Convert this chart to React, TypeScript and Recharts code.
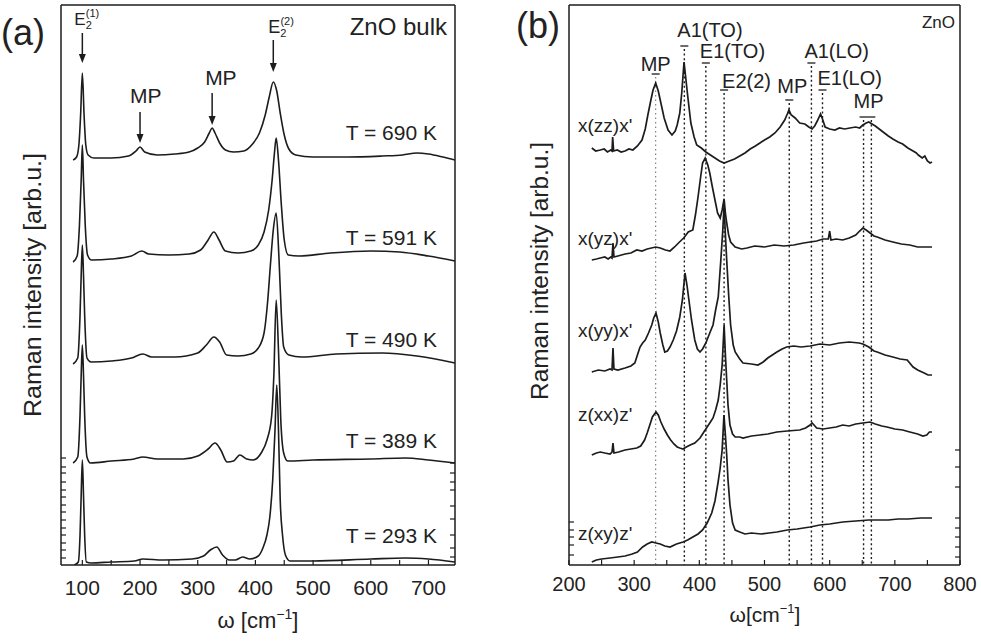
import React from 'react'
import { LineChart, Line, XAxis, YAxis, ReferenceLine } from 'recharts'

const FONT = '"Liberation Sans", Arial, Helvetica, sans-serif'
const INK = '#1c1c1c'

// ---------- panel (a): ZnO bulk, Raman vs temperature ----------
// each spectrum: [ω (cm-1), intensity (arb.u., already stacked)]
const t690 = [[84,405],[90,408],[94,420],[97,450],[100,492],[103,450],[106,420],[110,410],[120,407],[150,407],[180,409],[193,414],[200,418],[208,413],[230,410],[260,411],[285,413],[300,417],[312,423],[320,432],[325,437],[330,432],[338,422],[348,415],[362,413],[380,414],[395,421],[407,432],[417,450],[424,468],[431,483],[437,474],[443,452],[450,430],[458,416],[470,410],[500,408],[560,408],[620,409],[655,410],[680,412],[700,411],[725,408],[746,405]]
const t591 = [[84,303],[91,309],[95,340],[98,385],[100,420],[102,385],[105,340],[109,310],[116,305],[150,306],[185,309],[203,314],[215,311],[250,310],[285,311],[305,315],[318,325],[328,333],[337,325],[348,314],[370,312],[392,314],[405,320],[415,333],[423,355],[429,385],[433,412],[436,427],[440,405],[445,360],[450,325],[457,310],[475,309],[530,312],[600,314],[650,313],[700,309],[746,304]]
const t490 = [[84,201],[92,207],[96,250],[98,290],[100,320],[102,290],[104,250],[108,207],[115,203],[150,204],[185,207],[205,211],[220,208],[260,208],[300,212],[315,220],[328,228],[338,223],[350,210],[370,209],[392,211],[405,217],[415,232],[421,262],[426,300],[431,335],[436,352],[441,305],[445,250],[449,218],[458,210],[480,208],[540,211],[620,212],[680,209],[746,202]]
const t389 = [[84,102],[92,108],[96,150],[98,190],[100,220],[102,190],[104,150],[108,108],[114,102],[150,104],[190,106],[205,108],[230,106],[275,106],[300,109],[318,116],[330,122],[340,115],[351,103],[362,104],[373,110],[385,106],[396,105],[410,112],[420,125],[428,148],[432,190],[436,265],[440,215],[444,145],[449,112],[456,104],[500,105],[600,106],[660,107],[700,105],[746,102]]
const t293 = [[86,0],[93,3],[96,30],[98,70],[100,105],[102,70],[104,30],[107,3],[115,2],[150,3],[190,4],[205,6],[240,5],[290,6],[310,9],[322,15],[333,18],[343,10],[355,5],[365,5],[378,8],[390,6],[405,9],[413,17],[420,30],[425,48],[430,85],[434,135],[437,180],[440,135],[443,65],[447,30],[452,10],[460,4],[500,4],[600,6],[660,7],[700,6],[746,3]]
const tempSpectra = [t690, t591, t490, t389, t293]
const tempLabels = ['T = 690 K', 'T = 591 K', 'T = 490 K', 'T = 389 K', 'T = 293 K']

// arrows marking the modes
const peakBase = ['E', 'MP', 'MP', 'E']
const peakSub = ['2', '', '', '2']
const peakSup = ['(1)', '', '', '(2)']
const peakFreqs = [100, 200, 325, 431]
const arrowTops = [532, 453, 472, 525]
const arrowTips = [502, 422, 440, 493]

const aTicks = [100, 150, 200, 250, 300, 350, 400, 450, 500, 550, 600, 650, 700]
const aLeftTicks = [107, 98, 92, 83, 75, 68, 60, 53, 45, 37, 30, 22, 15, 7]
const aRightTicks = [102, 92, 83, 75, 59, 46, 30, 17, 8]

// ---------- panel (b): ZnO, polarised spectra ----------
const xzz = [[235,417],[241,414],[248,415],[254,416],[259,413],[264,415],[266,414],[267,428],[268.5,414],[274,415],[280,413],[286,414],[292,416],[298,415],[305,419],[312,425],[317,436],[321,450],[326,466],[329,475],[333,482],[337,474],[341,462],[346,447],[352,435],[358,430],[363,434],[366,440],[370,452],[373,472],[376.5,503],[379,488],[382,470],[387,442],[392,428],[396,420],[403,417],[410,413],[417,410],[424,407],[431,404],[438,402],[446,404],[454,406],[462,409],[470,412],[478,416],[486,419],[493,422],[500,425],[508,428],[516,432],[524,438],[531,445],[535,451],[537.5,455],[541,450],[547,447],[554,442],[562,441],[568,438],[573,436],[577,439],[581,444],[586,451],[589,446],[593,438],[600,436],[608,435],[615,437],[623,436],[631,437],[640,438],[646,437],[651,440],[656,442],[660,443],[665,441],[670,439],[676,436],[682,433],[690,429],[697,426],[705,423],[712,421],[720,417],[728,414],[733,412],[736,410],[742,407],[746,409],[750,404],[754,402],[757,403]]
const xyz = [[235,305],[242,306],[248,307],[255,308],[260,306],[264,308],[266,307],[267.5,322],[269,308],[275,309],[286,311],[295,312],[304,315],[312,314],[320,316],[333,318],[340,317],[348,315],[355,314],[362,318],[368,322],[376,327],[383,333],[390,335],[394,350],[398,368],[402,388],[405,402],[409,407],[413,400],[416,392],[420,378],[424,365],[428,352],[432,347],[435,355],[438,366],[440,352],[442,342],[445,330],[448,323],[455,318],[465,316],[473,317],[485,319],[500,318],[515,320],[530,319],[545,320],[560,322],[570,323],[580,324],[590,326],[598,326],[600,334],[602,325],[610,326],[620,325],[630,327],[640,330],[646,334],[651,337],[656,335],[662,332],[668,329],[673,328],[685,325],[697,323],[710,321],[723,320],[735,318],[745,318],[757,318]]
const xyy = [[235,193],[245,195],[255,194],[263,196],[266,195],[267.5,217],[269,196],[275,195],[286,197],[295,199],[301,202],[305,210],[309,218],[313,222],[317,225],[322,232],[327,240],[330,247],[333.5,252],[337,243],[340,232],[344,220],[347,213],[351,214],[355,218],[360,225],[365,234],[370,248],[374,265],[378,292],[381,280],[384,265],[388,245],[393,225],[397,216],[401,213],[405,216],[410,222],[416,232],[421,240],[425,255],[429,268],[433,305],[436,335],[438,360],[440,330],[442,305],[445,270],[448,240],[452,220],[455,213],[462,206],[467,202],[480,201],[490,200],[498,203],[505,207],[512,210],[519,213],[527,216],[534,218],[545,219],[556,218],[570,219],[585,221],[600,220],[615,222],[630,223],[645,222],[651,221],[660,218],[668,214],[673,213],[685,210],[697,208],[708,206],[719,205],[728,198],[735,195],[745,192],[751,190],[757,190]]
const zxx = [[235,110],[242,112],[248,113],[255,112],[263,111],[266,113],[267.5,122],[269,112],[276,113],[286,115],[295,116],[304,117],[310,119],[316,125],[320,132],[324,140],[328,148],[333.5,153],[337,150],[341,143],[346,136],[351,130],[356,125],[361,121],[366,118],[370,117],[375,116],[380,118],[386,120],[393,122],[401,127],[406,132],[412,138],[417,143],[421,147],[425,155],[429,165],[432,180],[435,200],[438,240],[440,210],[442,185],[444,160],[447,140],[451,131],[455,128],[462,128],[467,127],[480,129],[493,130],[505,131],[519,133],[535,134],[554,135],[563,137],[570,140],[573,142],[576,140],[580,137],[590,136],[600,137],[610,138],[620,140],[630,139],[640,141],[651,142],[662,143],[670,141],[680,139],[688,138],[700,136],[712,135],[723,133],[735,131],[743,129],[749,130],[753,133],[757,133]]
const zxy = [[235,3],[242,5],[250,6],[263,7],[275,8],[286,9],[297,11],[305,13],[313,18],[320,21],[327,23],[333.5,22],[340,21],[347,19],[355,18],[365,21],[375,23],[382,25],[390,28],[398,31],[405,35],[412,42],[419,52],[424,64],[428.6,82],[432,97],[435,115],[437.8,150],[440,130],[442,110],[444,85],[447,60],[451,42],[455,35],[462,33],[470,31],[480,32],[495,31],[507,32],[519,33],[535,35],[550,36],[570,38],[585,40],[600,41],[620,43],[640,44],[660,45],[673,45],[690,45],[705,46],[720,46],[740,47],[757,47]]
const polSpectra = [xzz, xyz, xyy, zxx, zxy]
const polLabels = ["x(zz)x'", "x(yz)x'", "x(yy)x'", "z(xx)z'", "z(xy)z'"]

// phonon modes marked by dotted guides
const modeNames = ['MP', 'A1(TO)', 'E1(TO)', 'E2(2)', 'MP', 'A1(LO)', 'E1(LO)', 'MP', '']
const modeFreqs = [333, 377, 410, 438, 538, 572, 589, 652, 664]
const modeTops = [488, 516, 499, 472, 462, 499, 472, 445, 445]

const bTicks = [200, 250, 300, 350, 400, 450, 500, 550, 600, 650, 700, 750, 800]
const bLeftTicks = [43, 35, 28, 20, 10]
const bRightTicks = [115, 98, 78, 47, 37, 28, 18, 8]

// label placement (pixels relative to the guide / arrow top)
const modeLabelPos = [
  { anchor: 'middle', dx: 0, dy: -6 },
  { anchor: 'start', dx: -7, dy: -12 },
  { anchor: 'start', dx: -6, dy: -8 },
  { anchor: 'start', dx: -2, dy: -5 },
  { anchor: 'middle', dx: 3, dy: -10 },
  { anchor: 'start', dx: -7, dy: -8 },
  { anchor: 'start', dx: -5, dy: -8 },
  { anchor: 'start', dx: -10, dy: -12 },
  { anchor: 'start', dx: 0, dy: 0 },
]
const peakLabelPos = [
  { dx: -8, dy: -8, size: 17 },
  { dx: -10, dy: -9, size: 21 },
  { dx: -7, dy: -8, size: 21 },
  { dx: -5, dy: -7, size: 18 },
]

const toRows = (pts: number[][]) => pts.map(([w, v]) => ({ w, v }))
const hundreds = (v: number) => (v % 100 === 0 ? String(v) : '')
const blank = () => ''
const axisStyle = { stroke: INK, strokeWidth: 1.5 }
const tickStyle = { stroke: INK, strokeWidth: 1.2 }

const arrowShape = (i: number) => (p: any) => {
  const { x1, y1, x2, y2 } = p
  const pos = peakLabelPos[i]
  const small = Math.round(pos.size * 0.62)
  return (
    <g>
      <line x1={x1} y1={y1} x2={x2} y2={y2 - 6} stroke={INK} strokeWidth={1.5} />
      <polygon points={`${x2 - 3.5},${y2 - 9} ${x2 + 3.5},${y2 - 9} ${x2},${y2}`} fill={INK} />
      <text x={x1 + pos.dx} y={y1 + pos.dy} fontSize={pos.size} fill="#222" fontFamily={FONT}>
        {peakBase[i]}
        {peakSub[i] && <tspan dy={4} fontSize={small}>{peakSub[i]}</tspan>}
        {peakSup[i] && <tspan dx={-small * 0.55} dy={-12} fontSize={small}>{peakSup[i]}</tspan>}
      </text>
    </g>
  )
}

const guideShape = (i: number) => (p: any) => {
  const { x1, y1, y2 } = p
  const pos = modeLabelPos[i]
  const faint = i === 0
  return (
    <g>
      <line x1={x1} y1={y1} x2={x1} y2={y2} stroke={faint ? '#777' : INK}
        strokeWidth={faint ? 1.1 : 1.4} strokeDasharray={faint ? '1.5 3' : '2 2.6'} />
      <line x1={x1 - 4} y1={y1 - 3} x2={x1 + 4} y2={y1 - 3} stroke={INK} strokeWidth={1.3} />
      {modeNames[i] && (
        <text x={x1 + pos.dx} y={y1 + pos.dy} textAnchor={pos.anchor as any}
          fontSize={20} fill="#222" fontFamily={FONT}>{modeNames[i]}</text>
      )}
    </g>
  )
}

function PanelA() {
  return (
    <LineChart width={470} height={644} margin={{ top: 4, right: 14, bottom: 39, left: 60 }}>
      <XAxis xAxisId="b" dataKey="w" type="number" domain={[63, 746]} allowDataOverflow
        ticks={aTicks} interval={0} tickFormatter={hundreds} tickSize={-5} tickMargin={20} height={40}
        axisLine={axisStyle} tickLine={tickStyle}
        tick={{ fontSize: 21, fill: '#222', fontFamily: FONT }} />
      <XAxis xAxisId="t" orientation="top" dataKey="w" type="number" domain={[63, 746]} allowDataOverflow
        tick={false} tickLine={false} height={1} axisLine={axisStyle} />
      <YAxis yAxisId="l" type="number" domain={[0, 560]} allowDataOverflow width={1}
        ticks={aLeftTicks} interval={0} tickFormatter={blank} tickSize={-5} axisLine={axisStyle} tickLine={tickStyle} />
      <YAxis yAxisId="r" orientation="right" type="number" domain={[0, 560]} allowDataOverflow width={1}
        ticks={aRightTicks} interval={0} tickFormatter={blank} tickSize={-5} axisLine={axisStyle} tickLine={tickStyle} />
      {tempSpectra.map((s, i) => (
        <Line key={tempLabels[i]} xAxisId="b" yAxisId="l" data={toRows(s)} dataKey="v" type="monotone"
          dot={false} stroke={INK} strokeWidth={1.6} isAnimationActive={false} />
      ))}
      {peakFreqs.map((w, i) => (
        <ReferenceLine key={i} xAxisId="b" yAxisId="l"
          segment={[{ x: w, y: arrowTops[i] }, { x: w, y: arrowTips[i] }]} shape={arrowShape(i)} />
      ))}
    </LineChart>
  )
}

function PanelB() {
  return (
    <LineChart width={491} height={644} margin={{ top: 4, right: 20, bottom: 39, left: 78 }}>
      <XAxis xAxisId="b" dataKey="w" type="number" domain={[200, 800]} allowDataOverflow
        ticks={bTicks} interval={0} tickFormatter={hundreds} tickSize={-5} tickMargin={17} height={40}
        axisLine={axisStyle} tickLine={tickStyle}
        tick={{ fontSize: 20, fill: '#222', fontFamily: FONT }} />
      <XAxis xAxisId="t" orientation="top" dataKey="w" type="number" domain={[200, 800]} allowDataOverflow
        tick={false} tickLine={false} height={1} axisLine={axisStyle} />
      <YAxis yAxisId="l" type="number" domain={[0, 560]} allowDataOverflow width={1}
        ticks={bLeftTicks} interval={0} tickFormatter={blank} tickSize={-5} axisLine={axisStyle} tickLine={tickStyle} />
      <YAxis yAxisId="r" orientation="right" type="number" domain={[0, 560]} allowDataOverflow width={1}
        ticks={bRightTicks} interval={0} tickFormatter={blank} tickSize={-5} axisLine={axisStyle} tickLine={tickStyle} />
      {modeFreqs.map((w, i) => (
        <ReferenceLine key={'m' + i} xAxisId="b" yAxisId="l"
          segment={[{ x: w, y: modeTops[i] }, { x: w, y: 0 }]} shape={guideShape(i)} />
      ))}
      {polSpectra.map((s, i) => (
        <Line key={polLabels[i]} xAxisId="b" yAxisId="l" data={toRows(s)} dataKey="v" type="linear"
          dot={false} stroke={INK} strokeWidth={1.7} isAnimationActive={false} />
      ))}
    </LineChart>
  )
}

const tempBaselines = [140, 245, 347, 448, 543]
const polBaselines = [132, 245, 337, 421, 540]

export default function App() {
  const txt = { fontFamily: FONT, fill: '#222' }
  return (
    <div style={{ position: 'absolute', left: 0, top: 0, width: 981, height: 644, background: '#fff', overflow: 'hidden' }}>
      <div style={{ position: 'absolute', left: 0, top: 0 }}><PanelA /></div>
      <div style={{ position: 'absolute', left: 490, top: 0 }}><PanelB /></div>
      <svg width={981} height={644} style={{ position: 'absolute', left: 0, top: 0, pointerEvents: 'none' }}>
        {/* panel (a) */}
        <text x={1} y={45} fontSize={36} {...txt}>(a)</text>
        <text x={447} y={35} fontSize={24} textAnchor="end" {...txt}>ZnO bulk</text>
        {tempLabels.map((t, i) => (
          <text key={t} x={437} y={tempBaselines[i]} fontSize={21} textAnchor="end" {...txt}>{t}</text>
        ))}
        <text transform="translate(41,285) rotate(-90)" fontSize={23} textAnchor="middle"
          textLength={264} lengthAdjust="spacingAndGlyphs" {...txt}>Raman intensity [arb.u.]</text>
        <text x={258} y={628} fontSize={22} textAnchor="middle" {...txt}>
          ω [cm<tspan dy={-9} fontSize={14}>−1</tspan><tspan dy={9}>]</tspan>
        </text>
        {/* panel (b) */}
        <text x={516} y={38} fontSize={36} {...txt}>(b)</text>
        <text x={955} y={28} fontSize={17} textAnchor="end" {...txt}>ZnO</text>
        {polLabels.map((t, i) => (
          <text key={t} x={578} y={polBaselines[i]} fontSize={19} {...txt}>{t}</text>
        ))}
        <text transform="translate(548,271) rotate(-90)" fontSize={23} textAnchor="middle"
          textLength={258} lengthAdjust="spacingAndGlyphs" {...txt}>Raman intensity [arb.u.]</text>
        <text x={765} y={622} fontSize={21} textAnchor="middle" {...txt}>
          ω[cm<tspan dy={-9} fontSize={13}>−1</tspan><tspan dy={9}>]</tspan>
        </text>
      </svg>
    </div>
  )
}
